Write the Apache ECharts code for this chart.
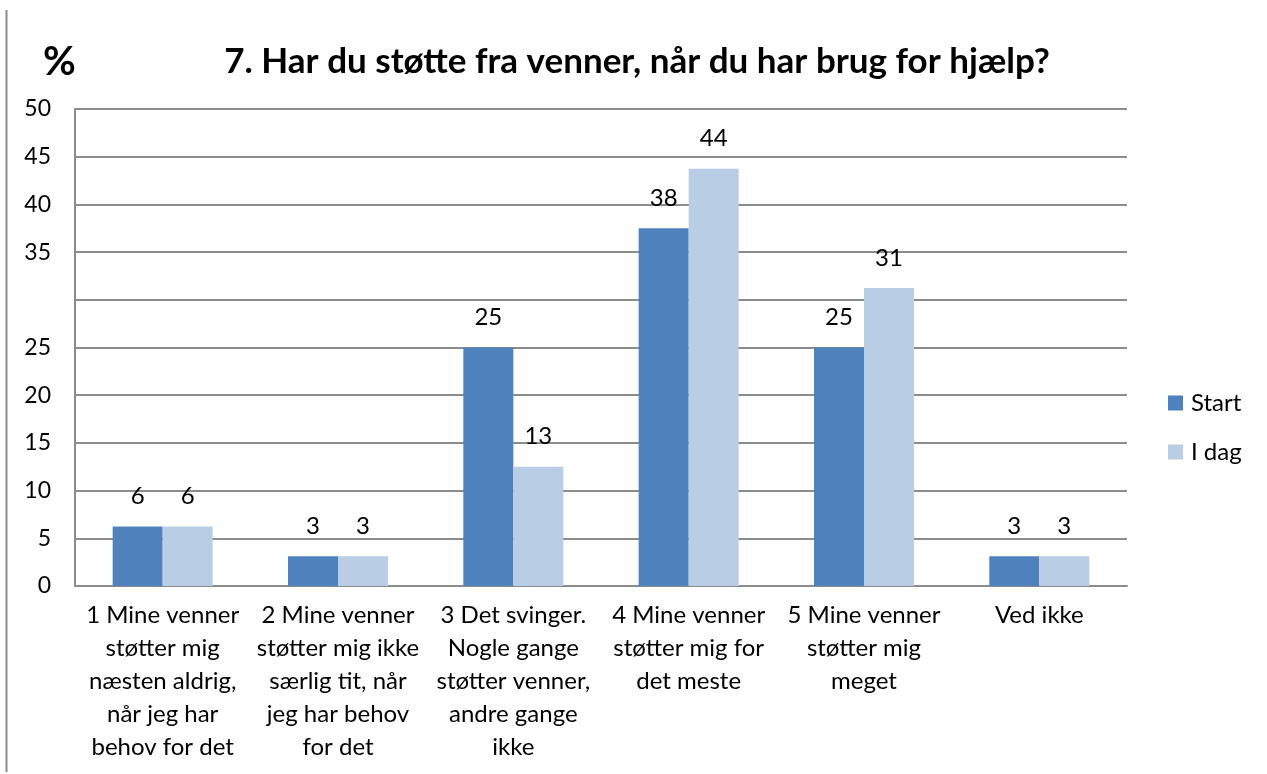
<!DOCTYPE html>
<html>
<head>
<meta charset="utf-8">
<script src="https://cdn.jsdelivr.net/npm/echarts@6/dist/echarts.min.js"></script>
<style>
  html, body { margin: 0; padding: 0; background: #fff; }
  #chart { width: 1267px; height: 774px; }
</style>
</head>
<body>
<div id="chart"></div>
<script>
// data
const categories = [
  '1 Mine venner\nstøtter mig\nnæsten aldrig,\nnår jeg har\nbehov for det',
  '2 Mine venner\nstøtter mig ikke\nsærlig tit, når\njeg har behov\nfor det',
  '3 Det svinger.\nNogle gange\nstøtter venner,\nandre gange\nikke',
  '4 Mine venner\nstøtter mig for\ndet meste',
  '5 Mine venner\nstøtter mig\nmeget',
  'Ved ikke'
];
const startValues = [6.25, 3.125, 25, 37.5, 25, 3.125];
const idagValues = [6.25, 3.125, 12.5, 43.75, 31.25, 3.125];
const hiddenTicks = [30]; // the reference skips this label

const font = 'Lato, "Noto Sans", sans-serif';
const grey = '#8c8c8c';

const chart = echarts.init(document.getElementById('chart'));

const labelStyle = {
  show: true,
  position: 'top',
  distance: 18,
  color: '#000',
  fontFamily: font,
  fontSize: 24,
  formatter: p => Math.round(p.value)
};

chart.setOption({
  animation: false,
  textStyle: { fontFamily: font },
  title: [
    {
      text: '7. Har du støtte fra venner, når du har brug for hjælp?',
      left: 632,
      top: 39,
      textAlign: 'center',
      textStyle: { fontFamily: font, fontSize: 35, fontWeight: 'bold', color: '#000' }
    },
    {
      text: '%',
      left: 38,
      top: 37,
      textStyle: { fontFamily: font, fontSize: 40, fontWeight: 'bold', color: '#000' }
    }
  ],
  legend: {
    orient: 'vertical',
    left: 1163,
    top: 386,
    itemWidth: 15,
    itemHeight: 15,
    itemGap: 25,
    icon: 'rect',
    textStyle: { fontFamily: font, fontSize: 24, color: '#000', padding: [0, 0, 0, 3] },
    data: ['Start', 'I dag']
  },
  grid: {
    left: 75,
    right: 140,
    top: 109,
    bottom: 188
  },
  xAxis: {
    type: 'category',
    data: categories,
    axisLine: { show: true, lineStyle: { color: grey, width: 2 } },
    axisTick: { show: false },
    axisLabel: {
      interval: 0,
      margin: 13,
      color: '#000',
      fontFamily: font,
      fontSize: 24,
      lineHeight: 33,
      align: 'center'
    }
  },
  yAxis: {
    type: 'value',
    min: 0,
    max: 50,
    interval: 5,
    axisLine: { show: true, lineStyle: { color: grey, width: 2 } },
    axisTick: { show: false },
    splitLine: { show: true, lineStyle: { color: grey, width: 2 } },
    axisLabel: {
      margin: 24,
      color: '#000',
      fontFamily: font,
      fontSize: 23,
      formatter: v => hiddenTicks.includes(v) ? '' : v
    }
  },
  series: [
    {
      name: 'Start',
      type: 'bar',
      data: startValues,
      barWidth: 50,
      barGap: '0%',
      itemStyle: { color: '#4f81bd' },
      label: labelStyle
    },
    {
      name: 'I dag',
      type: 'bar',
      data: idagValues,
      barWidth: 50,
      barGap: '0%',
      itemStyle: { color: '#b9cde5' },
      label: labelStyle
    }
  ],
  graphic: [
    {
      type: 'line',
      shape: { x1: 6.5, y1: 10, x2: 6.5, y2: 772 },
      style: { stroke: grey, lineWidth: 2 }
    }
  ]
});
</script>
</body>
</html>
